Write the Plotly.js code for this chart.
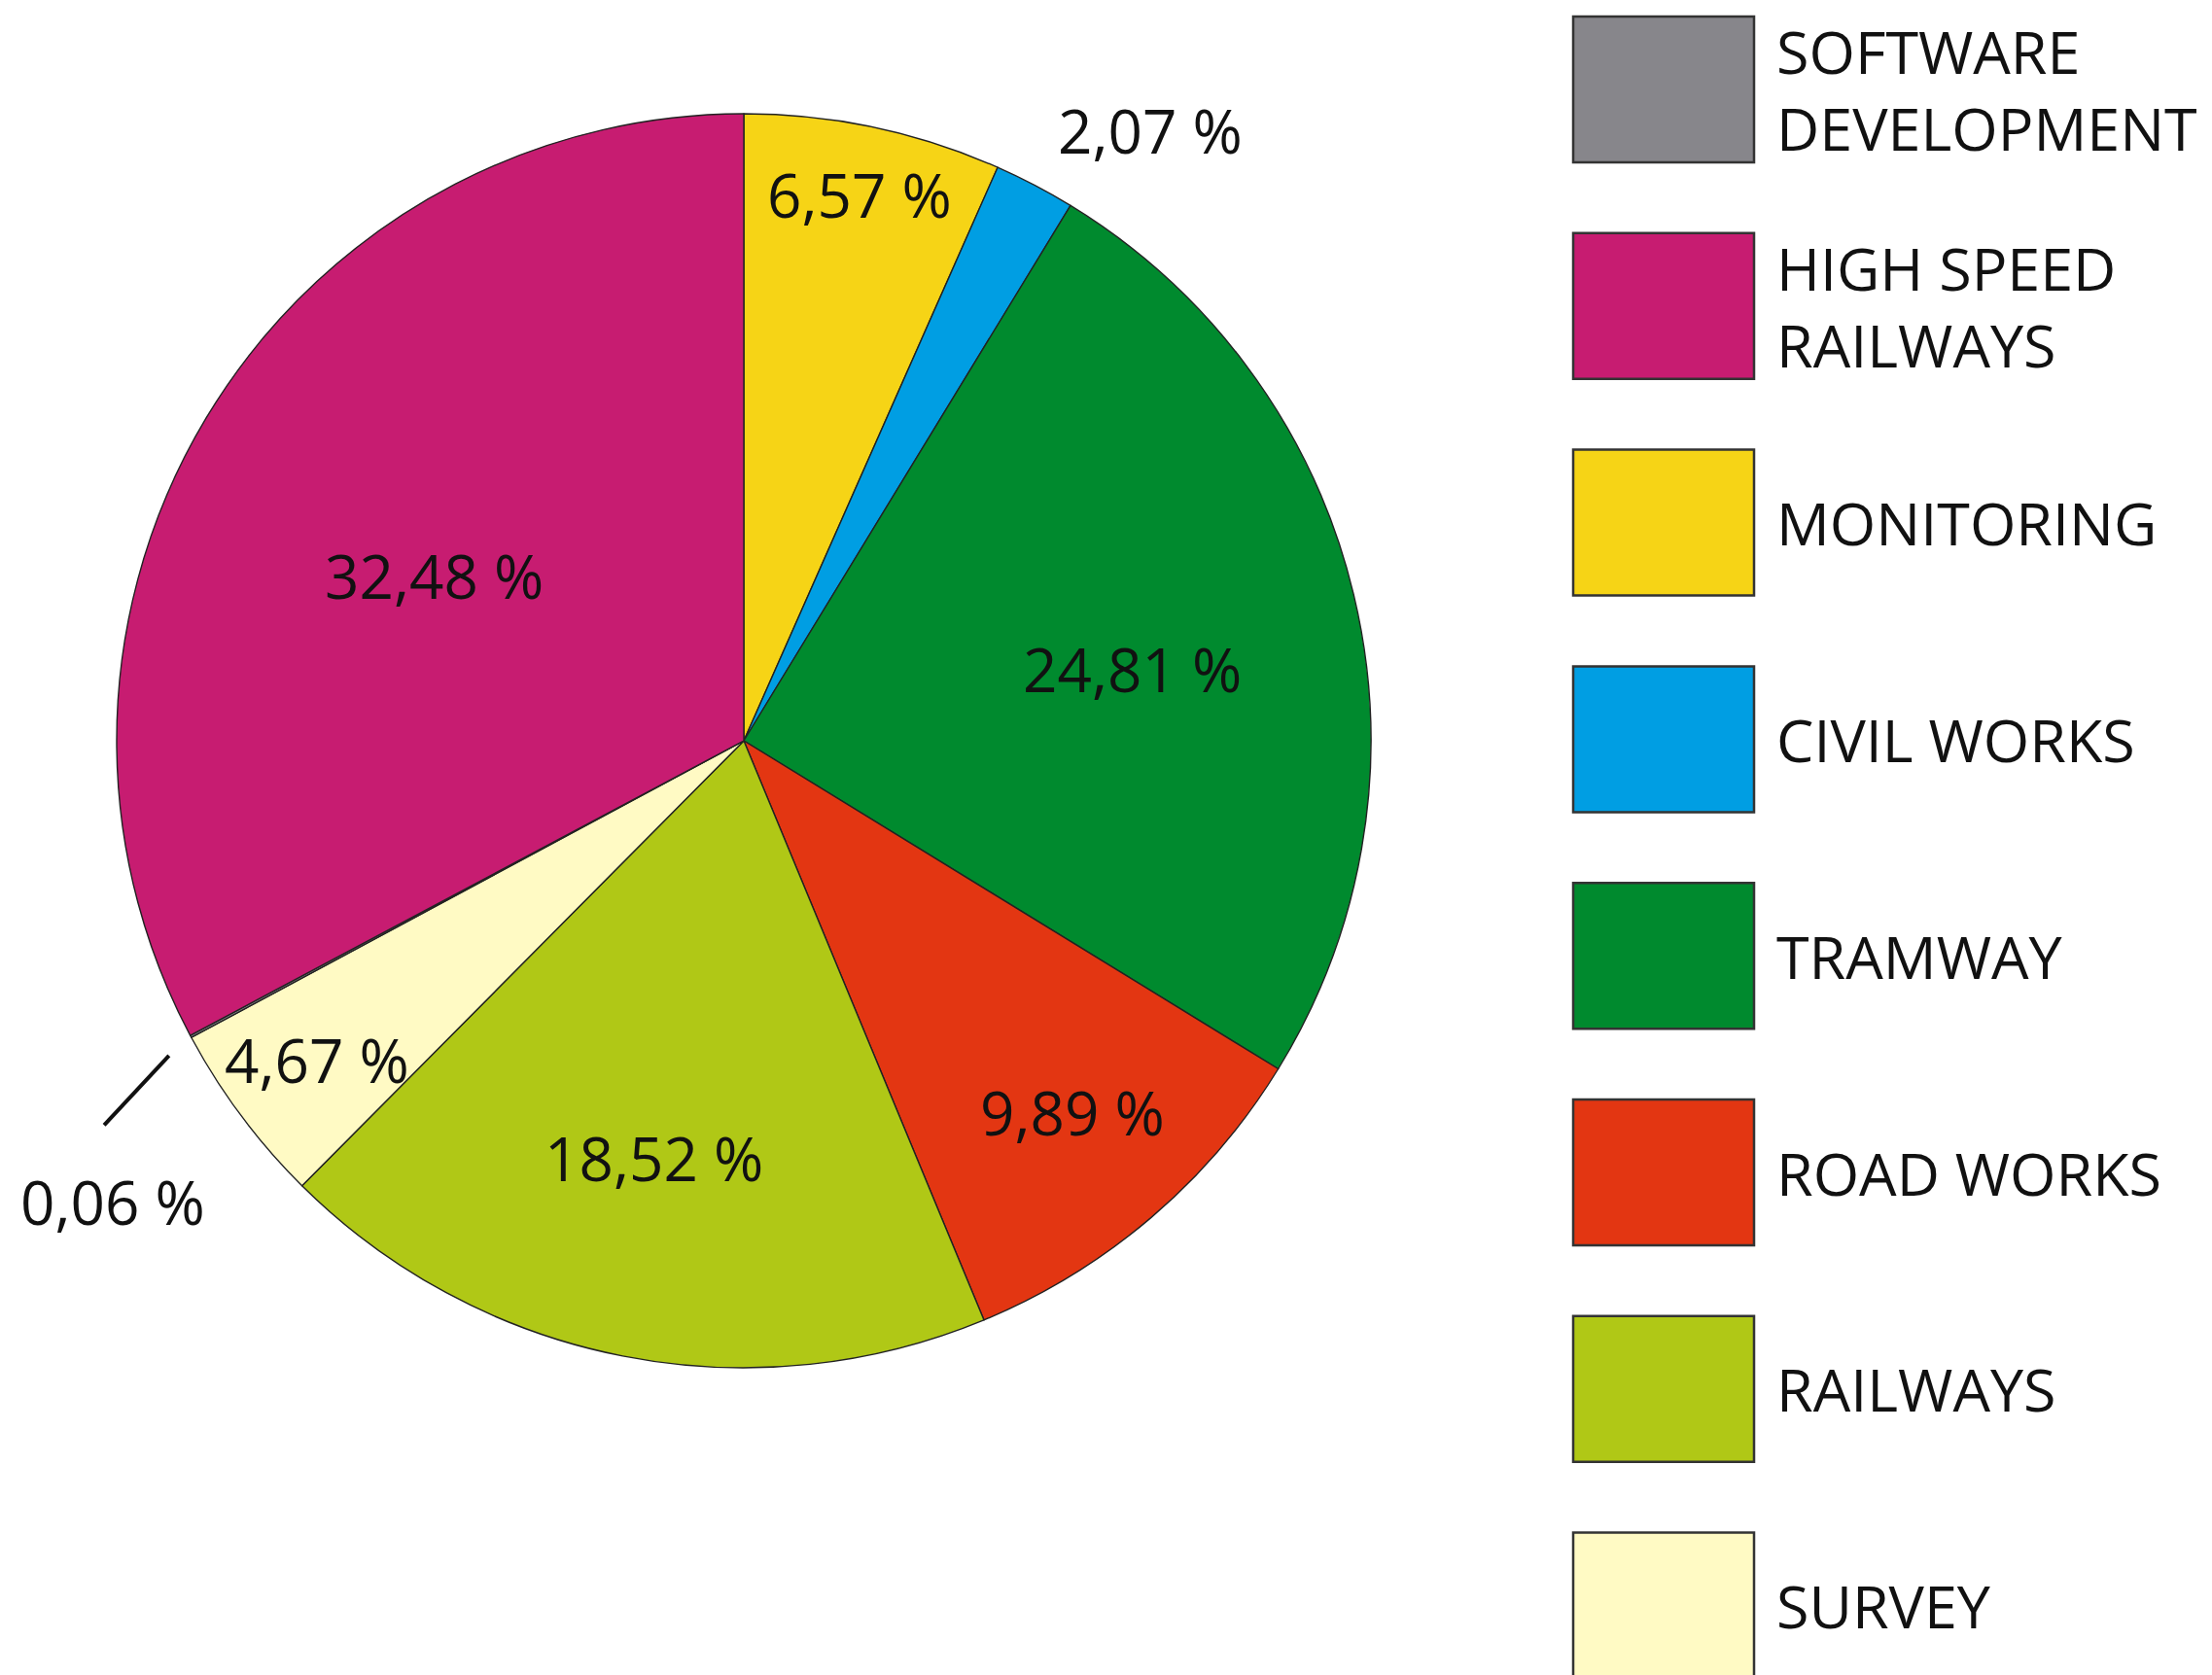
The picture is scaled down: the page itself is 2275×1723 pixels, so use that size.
<!DOCTYPE html>
<html>
<head>
<meta charset="utf-8">
<script src="https://cdn.plot.ly/plotly-3.0.1.min.js"></script>
<style>html,body{margin:0;padding:0;background:#fff;}#chart{width:2275px;height:1723px;}</style>
</head>
<body>
<div id="chart"></div>
<script>
// Data (pie order, clockwise from 12 o'clock)
const categories = ['MONITORING', 'CIVIL WORKS', 'TRAMWAY', 'ROAD WORKS', 'RAILWAYS', 'SURVEY', 'SOFTWARE DEVELOPMENT', 'HIGH SPEED RAILWAYS'];
const shares = [6.57, 2.07, 24.81, 9.89, 18.52, 4.67, 0.06, 32.48];
const colors = ['#f6d416', '#009ee3', '#008a2e', '#e33612', '#b0c816', '#fffac4', '#87868b', '#c71c71'];
// Legend order (indices into categories) and legend label text
const legendOrder = [6, 7, 0, 1, 2, 3, 4, 5];
const legendText = {
  'SOFTWARE DEVELOPMENT': 'SOFTWARE<br>DEVELOPMENT',
  'HIGH SPEED RAILWAYS': 'HIGH SPEED<br>RAILWAYS'
};
// Label placement (radius fraction, angle offset deg) - styling only
const labelR = [0.89, 1.17, 0.63, 0.79, 0.68, 0.85, 1.245, 0.56];
const labelDA = [0, 6, 3, -1, 1, 0, -8, -3];

const W = 2275, H = 1723;
const cx = 765, cy = 762, R = 645;
const FONT = '"Open Sans", "Noto Sans", sans-serif';

const fmt = v => v.toFixed(2).replace('.', ',') + ' %';

const trace = {
  type: 'pie',
  labels: categories,
  values: shares,
  sort: false,
  direction: 'clockwise',
  rotation: 0,
  textinfo: 'none',
  hoverinfo: 'label+percent',
  marker: { colors: colors, line: { color: '#222', width: 1.4 } },
  domain: { x: [(cx - R) / W, (cx + R) / W], y: [1 - (cy + R) / H, 1 - (cy - R) / H] },
  showlegend: false
};

const total = shares.reduce((a, b) => a + b, 0);
const annotations = [];
const shapes = [];
let cum = 0;
shares.forEach((v, i) => {
  const mid = (cum + v / 2) / total * 360;
  cum += v;
  const ang = (mid + labelDA[i]) * Math.PI / 180;
  const px = cx + labelR[i] * R * Math.sin(ang);
  const py = cy - labelR[i] * R * Math.cos(ang);
  annotations.push({
    text: fmt(v), x: px / W, y: 1 - py / H, xref: 'paper', yref: 'paper',
    showarrow: false, xanchor: 'center', yanchor: 'middle',
    font: { family: FONT, size: 62, color: '#111', weight: 500 }
  });
  if (categories[i] === 'SOFTWARE DEVELOPMENT') {
    const a = mid * Math.PI / 180;
    const r1 = 1.045 * R, r2 = 1.19 * R;
    shapes.push({
      type: 'line', xref: 'paper', yref: 'paper',
      x0: (cx + r1 * Math.sin(a - 0.01)) / W, y0: 1 - (cy - r1 * Math.cos(a - 0.01)) / H,
      x1: (cx + r2 * Math.sin(a - 0.05)) / W, y1: 1 - (cy - r2 * Math.cos(a - 0.05)) / H,
      line: { color: '#111', width: 4 }
    });
  }
});

// Legend drawn with shapes + annotations
const boxX0 = 1618, boxX1 = 1804, boxH = 150, firstTop = 17, step = 222.8, textX = 1825;
legendOrder.forEach((idx, k) => {
  const top = firstTop + k * step;
  shapes.push({
    type: 'rect', xref: 'paper', yref: 'paper',
    x0: boxX0 / W, x1: boxX1 / W, y0: 1 - top / H, y1: 1 - (top + boxH) / H,
    fillcolor: colors[idx], line: { color: '#333', width: 2.5 }
  });
  const name = categories[idx];
  const mid = top + boxH / 2;
  annotations.push({
    text: legendText[name] || name, x: textX / W, y: 1 - mid / H, xref: 'paper', yref: 'paper',
    showarrow: false, xanchor: 'left', yanchor: 'middle', align: 'left',
    font: { family: FONT, size: 61, color: '#111', weight: 500 }
  });
});

const layout = {
  width: W, height: H, autosize: false,
  margin: { l: 0, r: 0, t: 0, b: 0 },
  paper_bgcolor: '#fff', plot_bgcolor: '#fff',
  annotations: annotations, shapes: shapes
};

Plotly.newPlot('chart', [trace], layout, { displayModeBar: false, staticPlot: true });
</script>
</body>
</html>
